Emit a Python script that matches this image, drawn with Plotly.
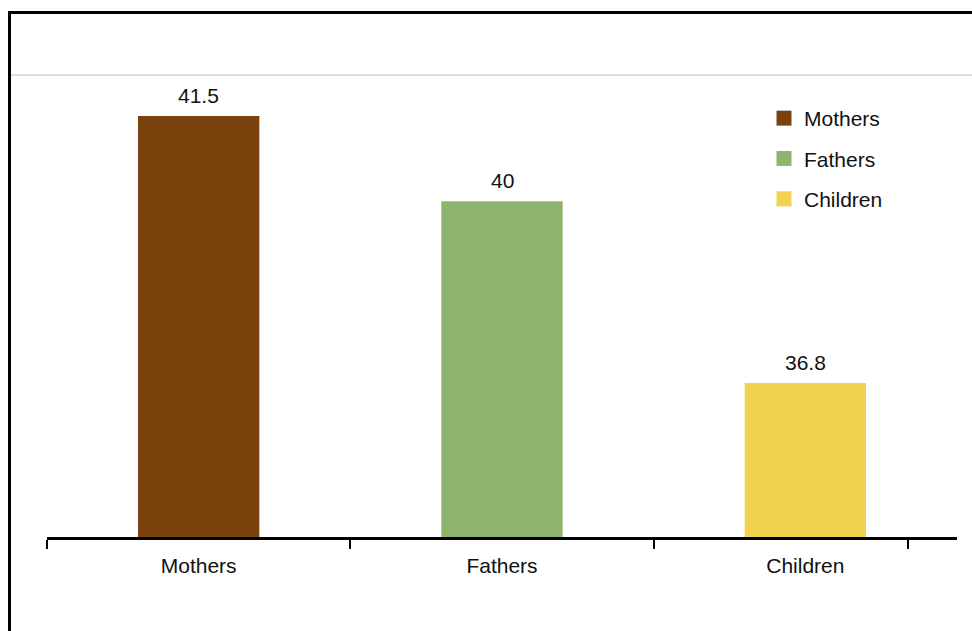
import plotly.graph_objects as go

# Average age at the time of the survey, by family role
categories = ["Mothers", "Fathers", "Children"]
values = [41.5, 40.0, 36.8]
value_labels = ["41.5", "40", "36.8"]
colors = ["#7A430D", "#8FB46E", "#F2D34F"]

FONT = "Liberation Sans, Arial, sans-serif"
FS = 21

fig = go.Figure()

for i, (cat, val, col) in enumerate(zip(categories, values, colors)):
    # the bar itself
    fig.add_trace(go.Bar(
        x=[i], y=[val], width=0.4, marker=dict(color=col, line=dict(width=0)),
        showlegend=False, hoverinfo="skip",
    ))
    # square legend swatch
    fig.add_trace(go.Scatter(
        x=[None], y=[None], mode="markers", name=cat, legendgroup=cat,
        marker=dict(symbol="square", size=15, color=col),
    ))

# value labels above each bar
for i, (val, lab) in enumerate(zip(values, value_labels)):
    fig.add_annotation(
        x=i, y=val, text=lab, showarrow=False, xref="x", yref="y",
        yanchor="bottom", yshift=7, font=dict(family=FONT, size=FS, color="#111111"),
    )

W, H = 972, 631
L, R, T, B = 47, 15, 75, 94
pw, ph = W - L - R, H - T - B

def px_x(p):
    return (p - L) / pw

def px_y(p):
    return (H - B - p) / ph

# outer frame, running off the right and bottom of the page
fig.add_shape(type="rect", xref="paper", yref="paper",
              x0=px_x(9.5), x1=px_x(985), y0=px_y(12.5), y1=px_y(650),
              line=dict(color="black", width=3), fillcolor="rgba(0,0,0,0)", layer="above")
# thin rule along the top of the plotting area
fig.add_shape(type="line", xref="paper", yref="paper",
              x0=px_x(11), x1=px_x(980), y0=1, y1=1,
              line=dict(color="#BDBDBD", width=1))

fig.update_layout(
    width=W, height=H,
    margin=dict(l=L, r=R, t=T, b=B),
    paper_bgcolor="white", plot_bgcolor="white",
    barmode="overlay",
    font=dict(family=FONT, size=FS, color="#111111"),
    legend=dict(
        x=px_x(764), y=px_y(98), xanchor="left", yanchor="top",
        font=dict(family=FONT, size=FS, color="#111111"),
        bgcolor="rgba(0,0,0,0)", traceorder="grouped", tracegroupgap=10,
    ),
    xaxis=dict(
        range=[-0.5, 2.5],
        tickvals=[0, 1, 2], ticktext=categories, ticks="",
        showline=True, linecolor="black", linewidth=2.5,
        showgrid=False, zeroline=False, ticklabelstandoff=8,
        tickfont=dict(family=FONT, size=FS, color="#111111"),
        minor=dict(tickvals=[-0.5, 0.5, 1.5, 2.34], ticks="outside",
                   ticklen=9, tickwidth=2, tickcolor="black", showgrid=False),
    ),
    yaxis=dict(range=[34.09, 42.22], visible=False, showgrid=False, zeroline=False),
)

fig.write_html("out.html")
